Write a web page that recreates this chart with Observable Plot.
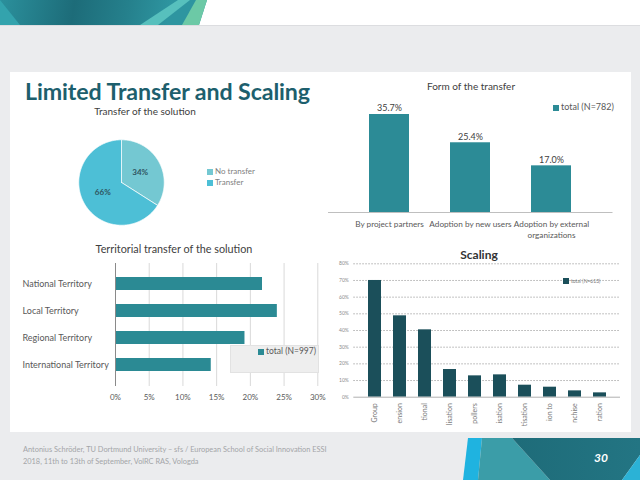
<!DOCTYPE html>
<html><head><meta charset="utf-8">
<script src="https://cdn.jsdelivr.net/npm/d3@7"></script>
<script src="https://cdn.jsdelivr.net/npm/@observablehq/plot@0.6"></script>
<style>
body{margin:0;background:#ebecee;font-family:Lato,sans-serif;}
#slide{position:relative;width:640px;height:480px;overflow:hidden;background:#ebecee;}
.a{position:absolute;white-space:nowrap;}
.sq{position:absolute;width:6px;height:6px;}
</style></head>
<body><div id="slide">
  <div class="a" style="left:0;top:0;width:640px;height:25px;background:#fff;border-bottom:1px solid #dcdde0;"></div>
  <div class="a" style="left:0;top:0;width:210px;height:25px;clip-path:polygon(0 0,207px 0,199px 25px,0 25px);background:linear-gradient(100deg,#2b909c 0%,#1d6c79 35%,#25808c 60%,#2e95a0 80%);"></div>
  <div class="a" style="left:0;top:0;width:210px;height:25px;clip-path:polygon(140px 25px,178px 0,190px 0,158px 25px);background:#57c0bd;"></div>
  <div class="a" style="left:0;top:0;width:210px;height:25px;clip-path:polygon(182px 25px,196px 0,207px 0,199px 25px);background:#6cc9a6;"></div>
  <div class="a" style="left:0;top:0;width:210px;height:25px;clip-path:polygon(0 0,20px 25px,0 25px);background:#33a3ad;"></div>

  <div class="a" style="left:10px;top:72px;width:621px;height:360px;background:#fff;"></div>

  <div class="a" style="left:463px;top:438px;width:177px;height:42px;clip-path:polygon(5px 0,19px 0,15px 42px,0 42px);background:#1fb3e0;"></div>
  <div class="a" style="left:463px;top:438px;width:177px;height:42px;clip-path:polygon(19px 0,49px 0,87px 42px,15px 42px);background:#3b9da8;"></div>
  <div class="a" style="left:463px;top:438px;width:177px;height:42px;clip-path:polygon(49px 0,177px 0,177px 17px,159px 42px,87px 42px);background:linear-gradient(90deg,#1c6875,#237583);"></div>
  <div class="a" style="left:463px;top:438px;width:177px;height:42px;clip-path:polygon(177px 17px,177px 42px,159px 42px);background:#2bb2d6;"></div>
  <div class="a" style="left:594px;top:450px;font-size:12px;font-weight:700;font-style:italic;color:#fff;">30</div>

  <div class="a" style="left:23px;top:444px;font-size:7.4px;line-height:11.5px;color:#a3a5a8;">Antonius Schröder, TU Dortmund University – sfs / European School of Social Innovation ESSI<br>2018, 11th to 13th of September, VolRC RAS, Vologda</div>

  <div class="a" style="left:25px;top:77px;font-size:23.2px;font-weight:700;color:#1d5f6d;letter-spacing:-0.1px;">Limited Transfer and Scaling</div>
  <div class="a" style="left:93px;top:105px;width:104px;text-align:center;font-size:10px;color:#404040;">Transfer of the solution</div>
  <div class="a" style="left:371px;top:80px;width:200px;text-align:center;font-size:10px;color:#404040;">Form of the transfer</div>
  <div class="a" style="left:74px;top:242px;width:200px;text-align:center;font-size:10.8px;color:#404040;">Territorial transfer of the solution</div>
  <div class="a" style="left:429px;top:247px;width:100px;text-align:center;font-size:12px;font-weight:700;color:#333;">Scaling</div>
</div>
<script>
// ---------- data ----------
const pieLabels = ["No transfer", "Transfer"];
const pieValues = [34, 66];

const formCategories = ["By project partners", "Adoption by new users", "Adoption by external organizations"];
const formValues = [35.7, 25.4, 17.0];
const formSeries = "total (N=782)";

const territoryCategories = ["National Territory", "Local Territory", "Regional Territory", "International Territory"];
const territoryValues = [21.8, 24.0, 19.2, 14.2];
const territoryTicks = [0, 5, 10, 15, 20, 25, 30];
const territorySeries = "total (N=997)";

const scalingCategories = ["Group", "ension", "tional", "lisation", "pollers", "isation", "tisation", "ion to", "nchise", "ration"];
const scalingValues = [70.0, 48.8, 40.4, 16.6, 12.8, 13.4, 7.2, 6.0, 3.8, 2.6];
const scalingTicks = [0, 10, 20, 30, 40, 50, 60, 70, 80];
const scalingSeries = "total (N=613)";

// ---------- styles ----------
const pieColors = ["#74c8d2", "#4dbfd6"];
const formColor = "#2c8b96";
const territoryColor = "#2b8a94";
const scalingColor = "#1b4f5a";
const txt = "#595959";

const slide = document.getElementById("slide");
function place(el, left, top, clipH) {
  const w = document.createElement("div");
  w.style.cssText = `position:absolute;left:${left}px;top:${top}px;` + (clipH ? `height:${clipH}px;overflow:hidden;` : "");
  w.appendChild(el);
  slide.appendChild(w);
}
function legend(left, top, color, label, fs, textColor) {
  const s = document.createElement("div");
  s.className = "sq"; s.style.left = left + "px"; s.style.top = top + "px"; s.style.background = color;
  slide.appendChild(s);
  const t = document.createElement("div");
  t.className = "a"; t.textContent = label;
  t.style.cssText += `left:${left + 8}px;top:${top + 3 - fs * 0.65}px;font-size:${fs}px;color:${textColor};line-height:1.2;`;
  slide.appendChild(t);
}
const baseStyle = {fontFamily: "Lato, sans-serif", background: "transparent", overflow: "visible"};

// ---------- pie ----------
const arcs = d3.pie().sort(null)(pieValues);
const pieRows = arcs.flatMap((a, i) => {
  const n = Math.ceil((a.endAngle - a.startAngle) / 0.02);
  const pts = [{name: pieLabels[i], x: 0, y: 0}];
  for (let k = 0; k <= n; k++) {
    const t = a.startAngle + (a.endAngle - a.startAngle) * k / n;
    pts.push({name: pieLabels[i], x: Math.sin(t), y: Math.cos(t)});
  }
  pts.push({name: pieLabels[i], x: 0, y: 0});
  return pts;
});
const pieMid = arcs.map((a, i) => {
  const m = (a.startAngle + a.endAngle) / 2;
  return {x: 0.5 * Math.sin(m), y: 0.5 * Math.cos(m), label: pieValues[i] + "%"};
});
place(Plot.plot({
  width: 94, height: 94, margin: 0, style: baseStyle,
  x: {domain: [-1.1, 1.1], axis: null},
  y: {domain: [-1.1, 1.1], axis: null},
  marks: [
    ...pieLabels.map((nm, i) => Plot.line(pieRows.filter(r => r.name === nm), {x: "x", y: "y", fill: pieColors[i], stroke: "#ffffff", strokeWidth: 0.7, curve: "linear"})),
    Plot.text(pieMid, {x: "x", y: "y", text: "label", fontSize: 8, fontWeight: "bold", fill: "#2f5560"})
  ]
}), 74, 135);
pieLabels.forEach((l, i) => legend(207, 169 + i * 11, pieColors[i], l, 8, "#808080"));

// ---------- form of the transfer ----------
const formData = formCategories.map((c, i) => ({cat: c, value: formValues[i]}));
const wrap = d => { if (d.length <= 22) return d; const k = d.lastIndexOf(" ", 21); return d.slice(0, k) + "\n" + d.slice(k + 1); };
place(Plot.plot({
  width: 305, height: 170, marginLeft: 8, marginRight: 12.5, marginTop: 27.2, marginBottom: 33, style: baseStyle,
  x: {domain: formCategories, padding: 0.505, axis: null},
  y: {domain: [0, 40], axis: null},
  marks: [
    Plot.barY(formData, {x: "cat", y: "value", fill: formColor}),
    Plot.ruleY([0], {stroke: "#bfbfbf"}),
    Plot.text(formData, {x: "cat", y: "value", text: d => d.value.toFixed(1) + "%", dy: -6, fontSize: 9, fill: "#404040"}),
    Plot.axisX({label: null, tickSize: 0, tickPadding: 7, fontSize: 8.2, fill: txt, tickFormat: wrap, lineHeight: 1.3})
  ]
}), 320, 75);
legend(553, 105, formColor, formSeries, 9, "#595959");

// ---------- territorial transfer ----------
const terData = territoryCategories.map((c, i) => ({cat: c, value: territoryValues[i]}));
place(Plot.plot({
  width: 330, height: 150, marginLeft: 115, marginRight: 12.7, marginTop: 8, marginBottom: 19, style: baseStyle,
  x: {domain: [0, 30], axis: null},
  y: {domain: territoryCategories, padding: 0.51, axis: null},
  marks: [
    Plot.ruleX(territoryTicks.filter(d => d > 0), {stroke: "#d9d9d9"}),
    Plot.barX(terData, {y: "cat", x: "value", fill: territoryColor}),
    Plot.ruleX([0], {stroke: "#8a8a8a"}),
    Plot.axisX({label: null, ticks: territoryTicks, tickFormat: d => d + "%", tickSize: 0, tickPadding: 8, fontSize: 8, fill: txt}),
    Plot.text(terData, {y: "cat", text: "cat", frameAnchor: "left", textAnchor: "start", dx: -93, fontSize: 9, fill: txt})
  ]
}), 0, 255);
const box = document.createElement("div");
box.className = "a";
box.style.cssText += "left:230px;top:345px;width:87px;height:26px;background:#eeeeee;border:1px solid #e2e2e2;";
slide.appendChild(box);
legend(258, 349, territoryColor, territorySeries, 8.5, "#595959");

// ---------- scaling ----------
const scData = scalingCategories.map((c, i) => ({cat: c, value: scalingValues[i]}));
place(Plot.plot({
  width: 310, height: 177, marginLeft: 33.3, marginRight: 10, marginTop: 8.3, marginBottom: 35.3, style: baseStyle,
  x: {domain: scalingCategories, padding: 0.5, axis: null},
  y: {domain: [0, 80], axis: null},
  marks: [
    Plot.ruleY(scalingTicks.filter(d => d > 0), {stroke: "#9a9a9a", strokeDasharray: "1.5,1.5", strokeWidth: 0.8}),
    Plot.barY(scData, {x: "cat", y: "value", fill: scalingColor}),
    Plot.ruleY([0], {stroke: "#b0b0b0"}),
    Plot.axisY({label: null, ticks: scalingTicks, tickFormat: d => d + "%", tickSize: 0, tickPadding: 5, fontSize: 5, fill: "#8a8a8a"}),
    Plot.axisX({label: null, tickRotate: -90, tickSize: 0, tickPadding: 6, fontSize: 7, fill: "#7a7a7a"})
  ]
}), 320, 255, 177);
legend(563, 278, scalingColor, scalingSeries, 5, "#7a7a7a");
</script>
</body></html>
